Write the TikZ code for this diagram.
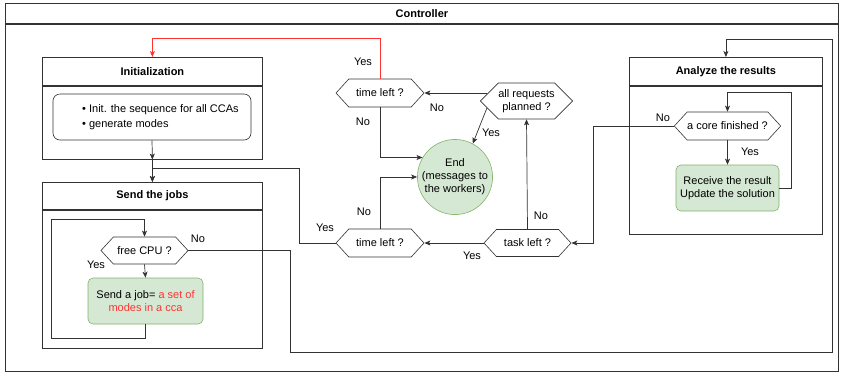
\documentclass[tikz,border=0pt]{standalone}
\usepackage{xcolor}
\usepackage{fontspec}
\setmainfont{Liberation Sans}
\usepackage{tikz}
\usetikzlibrary{shapes.geometric, shapes.symbols, arrows.meta, positioning}

\definecolor{lineGray}{HTML}{333333}
\definecolor{okFill}{HTML}{D5E8D4}
\definecolor{okLine}{HTML}{82B366}
\definecolor{warnRed}{HTML}{FF3333}

\tikzset{
    lanehead/.style={draw=lineGray, rectangle, line width=0.8pt, inner sep=0pt, font=\fontsize{11}{12}\selectfont\bfseries},
    lanebody/.style={draw=lineGray, rectangle, line width=0.8pt, inner sep=0pt},
    decision/.style={draw=lineGray, signal, signal to=east and west, signal pointer angle=95, inner sep=0pt, line width=0.6pt, align=center},
    actionbox/.style={draw=okLine, fill=okFill, rectangle, rounded corners=5pt, inner sep=0pt, align=center, line width=0.6pt},
    flow/.style={draw=lineGray, line width=0.7pt, -{Stealth[length=6pt, width=5pt, inset=1.5pt]}},
    lbl/.style={inner sep=0pt},
}

\begin{document}
\begin{tikzpicture}[x=1pt, y=-1pt, font=\fontsize{11}{13}\selectfont]
    \useasboundingbox (0,0) rectangle (842,373);

    % controller frame
    \node[lanehead, minimum width=833pt, minimum height=20pt, anchor=north west] (ctrlHead) at (5,3) {Controller};
    \node[lanebody, minimum width=833pt, minimum height=347pt, below=0pt of ctrlHead] (ctrlBody) {};

    % initialization
    \node[lanehead, minimum width=220pt, minimum height=28pt, anchor=north west] (initHead) at (42,57) {Initialization};
    \node[lanebody, minimum width=220pt, minimum height=73pt, below=0pt of initHead] (initBody) {};
    \node[draw=lineGray, rectangle, rounded corners=7pt, line width=0.6pt, minimum width=198pt, minimum height=46pt] (initList) at (152,117) {};
    \node[lbl, anchor=west, align=left, font=\fontsize{11}{15}\selectfont] (initItems) at (82,117.5) {\textbullet\ Init. the sequence for all CCAs\\\textbullet\ generate modes};

    % send the jobs
    \node[lanehead, minimum width=220pt, minimum height=27pt, anchor=north west] (jobsHead) at (42,182) {Send the jobs};
    \node[lanebody, minimum width=220pt, minimum height=138pt, below=0pt of jobsHead] (jobsBody) {};
    \node[decision, minimum width=87pt, minimum height=27pt] (freeCPU) at (144.5,250.5) {free CPU ?};
    \node[actionbox, minimum width=115pt, minimum height=46pt] (sendJob) at (145.5,301) {Send a job= \textcolor{warnRed}{a set of}\\\textcolor{warnRed}{modes in a cca}};
    \coordinate (jobLoopA) at (51,338);
    \coordinate (jobLoopB) at (144.5,219);

    % analyze the results
    \node[lanehead, minimum width=193pt, minimum height=28pt, anchor=north west] (anaHead) at (629,57) {Analyze the results};
    \node[lanebody, minimum width=193pt, minimum height=148pt, below=0pt of anaHead] (anaBody) {};
    \node[decision, minimum width=100pt, minimum height=28pt] (coreDone) at (727.5,126) {a core finished ?};
    \node[actionbox, minimum width=103pt, minimum height=46pt] (recvRes) at (727.5,188) {Receive the result\\Update the solution};
    \coordinate (anaLoop) at (791,92);

    % middle decisions
    \node[decision, minimum width=88pt, minimum height=28pt] (timeTop) at (380,93) {time left ?};
    \node[decision, minimum width=87pt, minimum height=36pt, signal pointer angle=90, font=\fontsize{11}{12.5}\selectfont] (allReq) at (526.5,101) {all requests\\planned ?};
    \node[circle, draw=okLine, fill=okFill, line width=0.6pt, minimum size=74pt, inner sep=0pt, align=center] (endNode) at (455,177) {End\\(messages to\\the workers)};
    \node[decision, minimum width=88pt, minimum height=28pt] (timeLow) at (380,243) {time left ?};
    \node[decision, minimum width=87pt, minimum height=27pt] (taskLeft) at (527.5,243) {task left ?};
    \coordinate (cpuNoA) at (290,352);
    \coordinate (cpuNoB) at (832,39);
    \coordinate (coreNo) at (593,243);
    \coordinate (lowYes) at (299,168);

    % connectors
    \draw[flow] (initList.south) -- (initBody.south);
    \draw[flow] (initBody.south) -- (jobsHead.north);
    \draw[flow] (timeLow.west) -| (lowYes) -| (jobsHead.north);
    \draw[flow] (sendJob.south) |- (jobLoopA) |- (jobLoopB) -- (freeCPU.north);
    \draw[flow] (freeCPU.south) -- (sendJob.north);
    \draw[flow] (freeCPU.east) -| (cpuNoA) -| (cpuNoB) -| (anaHead.north);
    \draw[flow] (coreDone.south) -- (recvRes.north);
    \draw[flow] (recvRes.east) -| (anaLoop) -| (coreDone.north);
    \draw[flow] (coreDone.west) -| (coreNo) -- (taskLeft.east);
    \draw[flow] (taskLeft.west) -- (timeLow.east);
    \draw[flow] (taskLeft.north) -- (allReq.south);
    \draw[flow] ([xshift=7.5pt]allReq.west |- timeTop.east) -- (timeTop.east);
    \draw[flow] (allReq.190) -- (endNode.62);
    \draw[flow] (timeTop.south) |- (endNode.149);
    \draw[flow] (timeLow.north) |- (endNode.west);
    \draw[flow, draw=warnRed] (timeTop.north) -- ++(0,-40) -| (initHead.north);

    % branch labels
    \node[lbl] (lblRedYes) at (363,62) {Yes};
    \node[lbl] (lblTopNo) at (363,122) {No};
    \node[lbl] (lblReqNo) at (437,108) {No};
    \node[lbl] (lblReqYes) at (491,133) {Yes};
    \node[lbl] (lblLowNo) at (364,212) {No};
    \node[lbl] (lblLowYes) at (325,228) {Yes};
    \node[lbl] (lblTaskYes) at (472,256) {Yes};
    \node[lbl] (lblTaskNo) at (541,216) {No};
    \node[lbl] (lblCoreNo) at (663,118) {No};
    \node[lbl] (lblCoreYes) at (750,152) {Yes};
    \node[lbl] (lblCpuNo) at (198,239) {No};
    \node[lbl] (lblCpuYes) at (96,265) {Yes};
\end{tikzpicture}
\end{document}
